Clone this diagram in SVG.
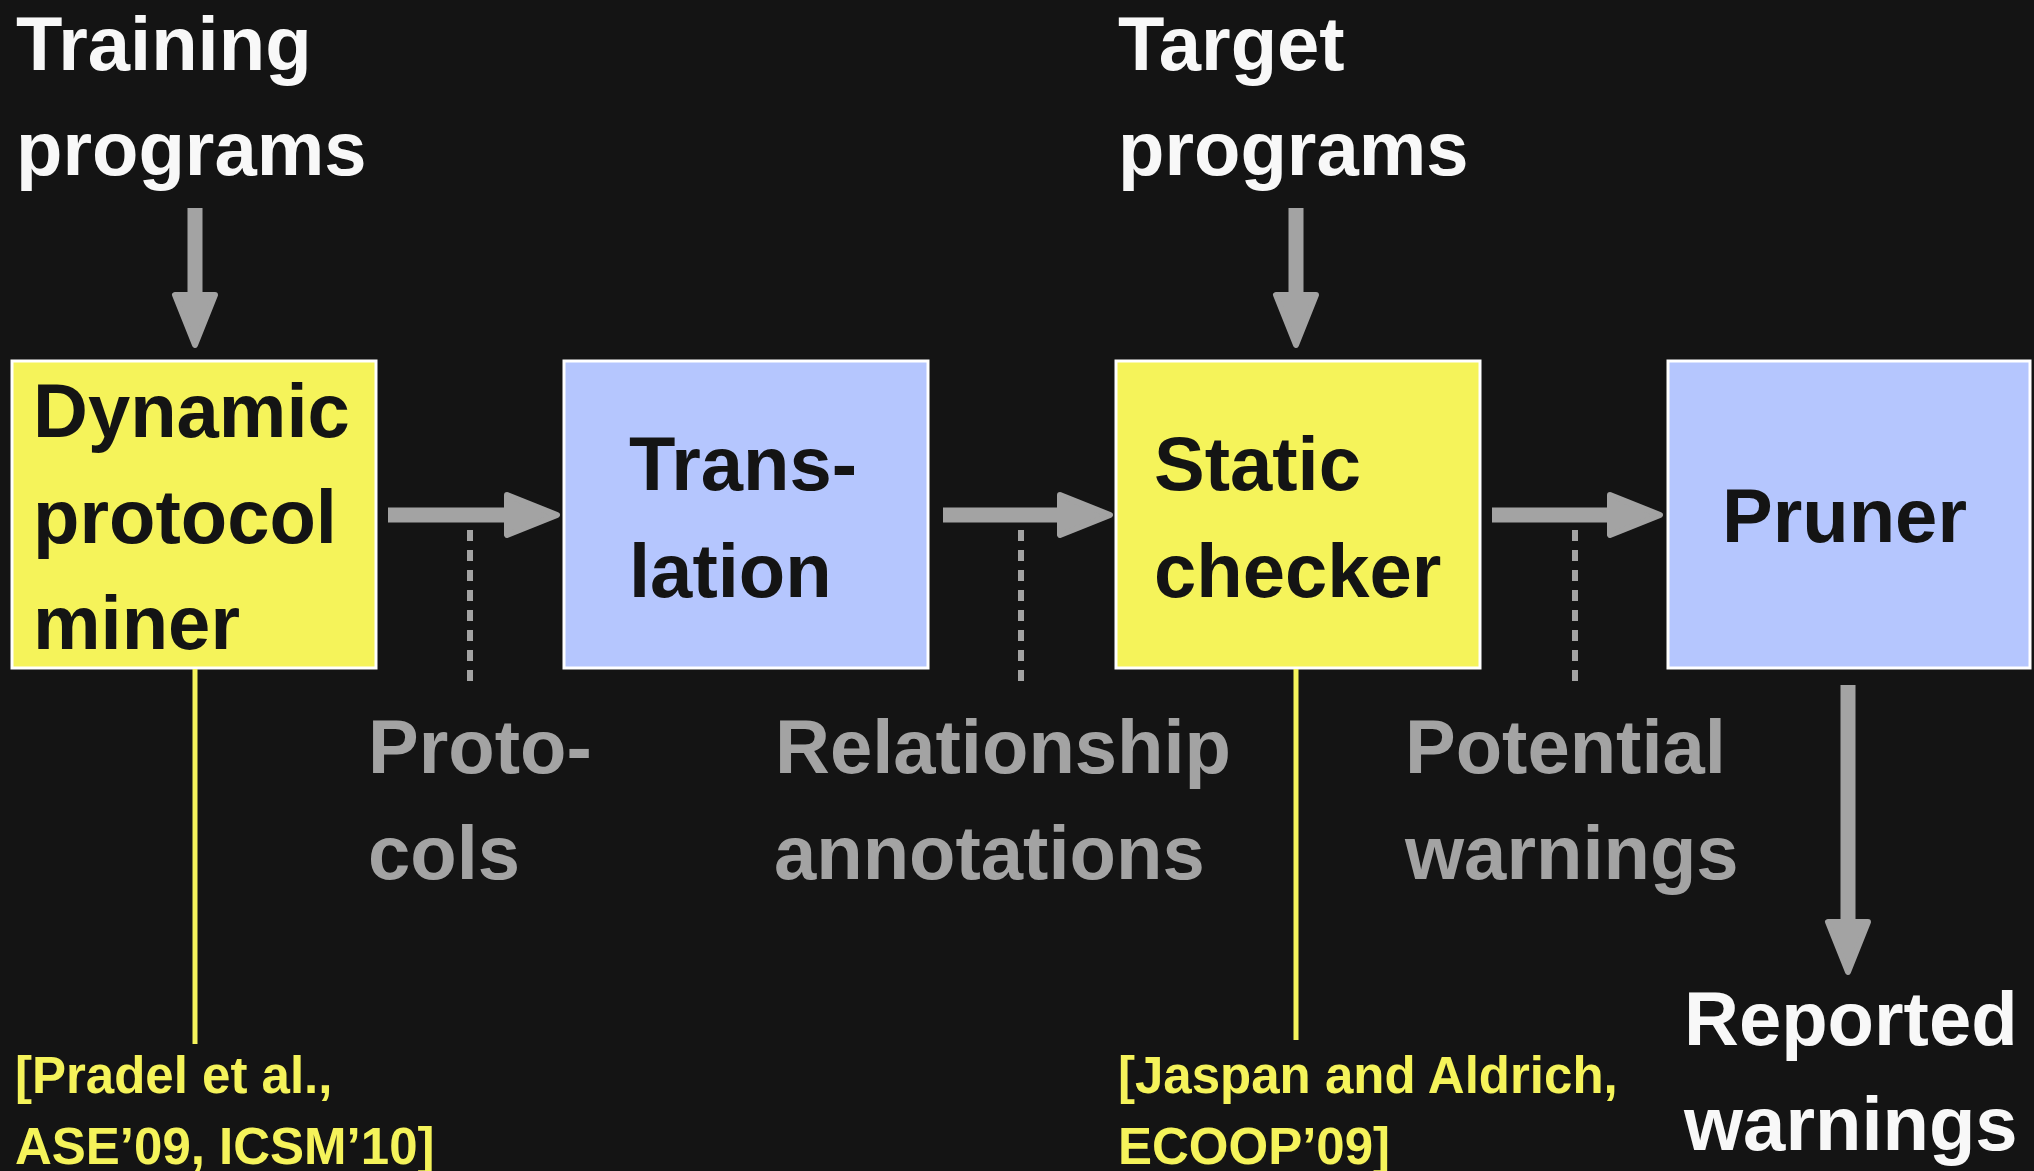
<svg xmlns="http://www.w3.org/2000/svg" width="2034" height="1171" viewBox="0 0 2034 1171">
  <style>
    text { font-family: "Liberation Sans", Arial, Helvetica, sans-serif; font-weight: bold; }
    .big { font-size: 76px; }
    .cite { font-size: 51px; fill: #f5f35a; }
    .white { fill: #f8f8f8; }
    .grey { fill: #a3a3a3; }
    .dark { fill: #141414; }
    .yellow { fill: #f5f35a; stroke: #ffffff; stroke-width: 3; }
    .blue { fill: #b5c6fe; stroke: #ffffff; stroke-width: 3; }
    .flow { stroke: #a3a3a3; stroke-width: 15; fill: none; marker-end: url(#head); }
    .dash { stroke: #a3a3a3; stroke-width: 6; stroke-dasharray: 11 9; fill: none; }
    .ref { stroke: #f5f35a; stroke-width: 5; fill: none; }
  </style>
  <defs>
    <marker id="head" markerUnits="userSpaceOnUse" viewBox="0 0 60 50" markerWidth="60" markerHeight="50" refX="26" refY="25" orient="auto">
      <path d="M3,5 L53,25 L3,45 Z" fill="#a3a3a3" stroke="#a3a3a3" stroke-width="6" stroke-linejoin="round"/>
    </marker>
  </defs>

  <rect width="2034" height="1171" fill="#141414"/>

  <!-- inputs and outputs -->
  <g id="training-programs">
    <text class="big white" x="16" y="70">Training</text>
    <text class="big white" x="16" y="175">programs</text>
  </g>
  <g id="target-programs">
    <text class="big white" x="1118" y="70">Target</text>
    <text class="big white" x="1118" y="175">programs</text>
  </g>
  <g id="reported-warnings">
    <text class="big white" x="1684" y="1045">Reported</text>
    <text class="big white" x="1684" y="1150">warnings</text>
  </g>

  <!-- pipeline stages -->
  <g id="miner">
    <rect class="yellow" x="12" y="361" width="364" height="307"/>
    <text class="big dark" x="33" y="437">Dynamic</text>
    <text class="big dark" x="33" y="543">protocol</text>
    <text class="big dark" x="33" y="649">miner</text>
  </g>
  <g id="translation">
    <rect class="blue" x="564" y="361" width="364" height="307"/>
    <text class="big dark" x="629" y="490">Trans-</text>
    <text class="big dark" x="629" y="597">lation</text>
  </g>
  <g id="checker">
    <rect class="yellow" x="1116" y="361" width="364" height="307"/>
    <text class="big dark" x="1154" y="490">Static</text>
    <text class="big dark" x="1154" y="597">checker</text>
  </g>
  <g id="pruner">
    <rect class="blue" x="1668" y="361" width="362" height="307"/>
    <text class="big dark" x="1722" y="542">Pruner</text>
  </g>

  <!-- intermediate artefacts -->
  <g id="protocols">
    <text class="big grey" x="368" y="773">Proto-</text>
    <text class="big grey" x="368" y="879">cols</text>
  </g>
  <g id="annotations">
    <text class="big grey" x="775" y="773">Relationship</text>
    <text class="big grey" x="774" y="879">annotations</text>
  </g>
  <g id="potential-warnings">
    <text class="big grey" x="1405" y="773">Potential</text>
    <text class="big grey" x="1405" y="879">warnings</text>
  </g>

  <!-- citations -->
  <g id="cite-miner">
    <text class="cite" x="15" y="1093">[Pradel et al.,</text>
    <text class="cite" x="15" y="1164">ASE’09, ICSM’10]</text>
  </g>
  <g id="cite-checker">
    <text class="cite" x="1118" y="1093">[Jaspan and Aldrich,</text>
    <text class="cite" x="1118" y="1164">ECOOP’09]</text>
  </g>

  <g id="connectors">
    <!-- data flow -->
    <line class="flow" x1="195" y1="208" x2="195" y2="318"/>
    <line class="flow" x1="1296" y1="208" x2="1296" y2="318"/>
    <line class="flow" x1="388" y1="515" x2="530" y2="515"/>
    <line class="flow" x1="943" y1="515" x2="1083" y2="515"/>
    <line class="flow" x1="1492" y1="515" x2="1633" y2="515"/>
    <line class="flow" x1="1848" y1="685" x2="1848" y2="945"/>
    <!-- labels of the data passed between stages -->
    <line class="dash" x1="470" y1="530" x2="470" y2="690"/>
    <line class="dash" x1="1021" y1="530" x2="1021" y2="690"/>
    <line class="dash" x1="1575" y1="530" x2="1575" y2="690"/>
    <!-- references -->
    <line class="ref" x1="195" y1="669" x2="195" y2="1044"/>
    <line class="ref" x1="1296" y1="669" x2="1296" y2="1040"/>
  </g>
</svg>
